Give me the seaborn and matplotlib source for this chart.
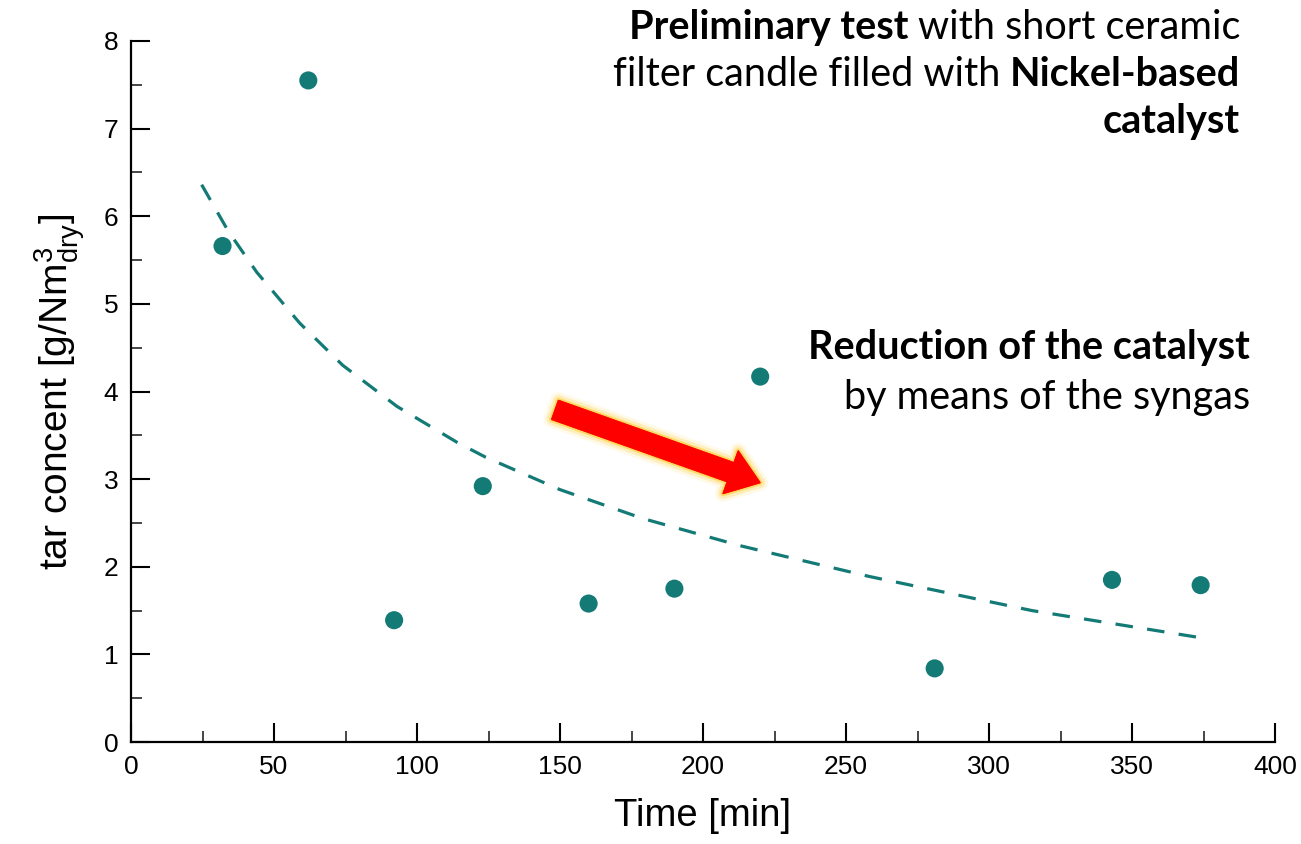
import matplotlib
matplotlib.use("Agg")
import matplotlib.pyplot as plt
import matplotlib.patheffects as pe
from matplotlib.ticker import MultipleLocator
import seaborn as sns

# measured points
time_min = [32, 62, 92, 123, 160, 190, 220, 281, 343, 374]
tar_conc = [5.66, 7.55, 1.39, 2.92, 1.58, 1.75, 4.17, 0.84, 1.85, 1.79]

# trend line
fit_time = [24.7, 34, 44, 59, 74, 93, 114, 124, 150, 179, 213, 258, 315, 374]
fit_conc = [6.36, 5.83, 5.36, 4.78, 4.30, 3.83, 3.42, 3.25, 2.88, 2.55, 2.24, 1.89, 1.50, 1.19]

x_ticks = [0, 50, 100, 150, 200, 250, 300, 350, 400]
y_ticks = [0, 1, 2, 3, 4, 5, 6, 7, 8]

note_top = [
    [("Preliminary test", "bold"), ("with short ceramic", "normal")],
    [("filter candle filled with", "normal"), ("Nickel-based", "bold")],
    [("catalyst", "bold")],
]
note_mid = [
    [("Reduction of the catalyst", "bold")],
    [("by means of the syngas", "normal")],
]

sns.set_style("ticks")
plt.rcParams["font.family"] = ["Liberation Sans", "DejaVu Sans"]

teal = "#137a76"

fig = plt.figure(figsize=(13.01, 8.44), dpi=100)
ax = fig.add_axes([131 / 1301, 1 - 742 / 844, (1275 - 131) / 1301, (742 - 41) / 844])

sns.lineplot(x=fit_time, y=fit_conc, ax=ax, color=teal, linewidth=2.3,
             linestyle=(0, (5.5, 4.5)), sort=False)
sns.scatterplot(x=time_min, y=tar_conc, ax=ax, color=teal, s=170,
                edgecolor="none", zorder=5)

ax.set_xlim(0, 400)
ax.set_ylim(0, 8)
ax.set_xticks(x_ticks)
ax.set_yticks(y_ticks)
ax.set_xticklabels([str(t) for t in x_ticks])
ax.set_yticklabels([str(t) for t in y_ticks])
ax.xaxis.set_minor_locator(MultipleLocator(25))
ax.yaxis.set_minor_locator(MultipleLocator(0.5))
ax.tick_params(which="major", direction="in", length=14, width=1.5,
               labelsize=19, colors="black", pad=9)
ax.tick_params(which="minor", direction="in", length=8, width=1.2)
for s in ["top", "right"]:
    ax.spines[s].set_visible(False)
for s in ["left", "bottom"]:
    ax.spines[s].set_linewidth(1.6)
    ax.spines[s].set_color("black")

ax.set_xlabel("Time [min]", fontsize=27.5, labelpad=14, color="black")
ax.set_ylabel(r"tar concent [g/Nm$\mathregular{^3_{dry}}$]", fontsize=28,
              labelpad=12, color="black")

# red arrow with soft glow
glow = [pe.withStroke(linewidth=12, foreground="#ffe27a", alpha=0.18),
        pe.withStroke(linewidth=8, foreground="#ffd040", alpha=0.25),
        pe.withStroke(linewidth=4, foreground="#ffc000", alpha=0.45)]
ax.annotate("", xy=(219.9, 2.96), xytext=(148.3, 3.79),
            arrowprops=dict(arrowstyle="simple,head_length=1.55,head_width=2.25,tail_width=1.0",
                            mutation_scale=14.4, color="#ff0000", shrinkA=0, shrinkB=0,
                            path_effects=glow),
            zorder=6)

FS = 28.5
SPACE_PX = FS * 0.24 * 100 / 72


def rich_line(pieces, x_px, y_px):
    """Right-aligned line made of pieces with different weights."""
    fig.canvas.draw()
    renderer = fig.canvas.get_renderer()
    x = x_px
    for text, weight in reversed(pieces):
        t = fig.text(x / 1301, 1 - y_px / 844, text, fontsize=FS, fontweight=weight,
                     family="Lato", ha="right", va="baseline", color="black")
        w = t.get_window_extent(renderer=renderer).width
        x = x - w - SPACE_PX


for i, line in enumerate(note_top):
    rich_line(line, 1240, 39 + 47 * i)
for i, line in enumerate(note_mid):
    rich_line(line, 1250, 359 + 50 * i)

fig.savefig("out.png", dpi=100, facecolor="white")
